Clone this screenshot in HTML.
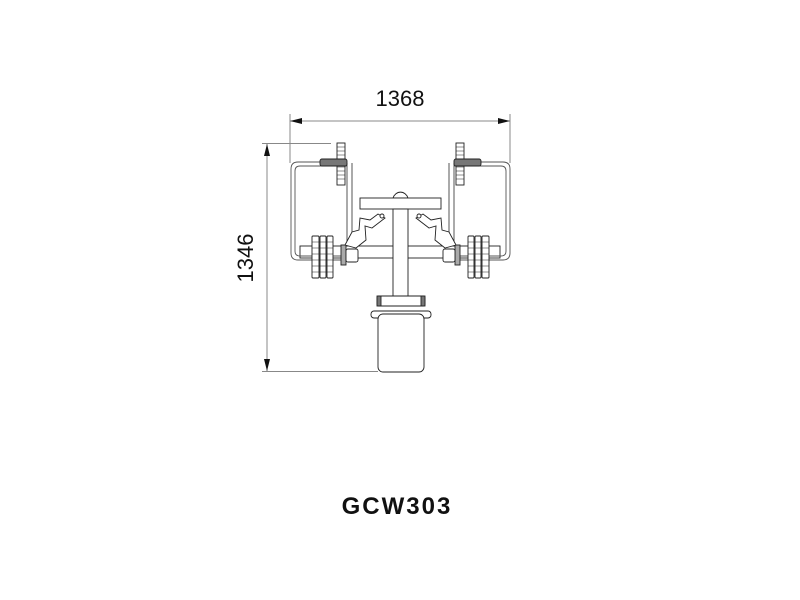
<!DOCTYPE html>
<html><head><meta charset="utf-8"><style>
html,body{margin:0;padding:0;background:#fff;width:800px;height:600px;overflow:hidden}
svg{display:block}
</style></head><body>
<svg width="800" height="600" viewBox="0 0 800 600" xmlns="http://www.w3.org/2000/svg" font-family="Liberation Sans, sans-serif">
<defs>
<g id="half" fill="#fff" stroke="#222" stroke-width="0.9">
  <path d="M352,163 L352,245 M347,163 L347,245" fill="none" stroke="#444"/>
  <path d="M347,162 L298,162 Q291,162 291,169 L291,253 Q291,260 298,260 L345,260" fill="none" stroke="#555"/>
  <path d="M347,166 L300,166 Q295,166 295,171 L295,251 Q295,256 300,256 L345,256" fill="none" stroke="#555"/>
  <rect x="337" y="143" width="8" height="42" fill="#fff"/>
  <path d="M337,147h8M337,151h8M337,155h8M337,159h8M337,163h8M337,167h8M337,171h8M337,175h8M337,179h8" stroke-width="0.6"/>
  <rect x="320" y="159" width="27" height="7" rx="2" fill="#777"/>
  <rect x="312" y="236" width="7" height="42" rx="1"/>
  <rect x="320" y="236" width="6" height="42" rx="1"/>
  <rect x="327" y="236" width="6" height="42" rx="1"/>
  <path d="M312,242h21M312,248h21M312,254h21M312,260h21M312,266h21M312,272h21" stroke-width="0.5"/>
  <rect x="341" y="245" width="5" height="20" fill="#aaa"/>
  <rect x="346" y="249" width="12" height="13" rx="2"/>
  <path d="M345,245 L352,232 L359,230 L360,218 L370,220 L378,214 L385,218 L372,228 L365,226 L366,240 L356,248 Z"/>
  <circle cx="382" cy="216" r="2"/>
</g>
</defs>
<g stroke="#888" stroke-width="1">
  <line x1="290" y1="121" x2="510" y2="121"/>
  <line x1="290" y1="114" x2="290" y2="163"/>
  <line x1="510" y1="114" x2="510" y2="163"/>
  <line x1="267" y1="144" x2="267" y2="371"/>
  <line x1="262" y1="143.5" x2="331" y2="143.5"/>
  <line x1="262" y1="371.5" x2="378" y2="371.5"/>
</g>
<path d="M290,121 l12,-3 v6z M510,121 l-12,-3 v6z M267,144 l-3,12 h6z M267,371 l-3,-12 h6z" fill="#111"/>
<text x="400" y="106" font-size="22" text-anchor="middle" fill="#111">1368</text>
<text transform="translate(253,258) rotate(-90)" font-size="22" text-anchor="middle" fill="#111">1346</text>
<rect x="300" y="246" width="200" height="12" fill="#fff" stroke="#222" stroke-width="0.9"/>
<use href="#half"/>
<use href="#half" transform="translate(801,0) scale(-1,1)"/>
<g fill="#fff" stroke="#222" stroke-width="0.9">
  <path d="M393,198 A8,9 0 0 1 408,198 Z"/>
  <rect x="360" y="198" width="81" height="11"/>
  <rect x="393" y="209" width="15" height="88"/>
  <rect x="377" y="296" width="48" height="10" rx="2"/>
  <rect x="377" y="296" width="4" height="10" fill="#777"/>
  <rect x="421" y="296" width="4" height="10" fill="#777"/>
  <rect x="371" y="311" width="60" height="7" rx="3"/>
  <rect x="378" y="314" width="46" height="58" rx="5"/>
</g>
<text x="397" y="514" font-size="24" font-weight="bold" text-anchor="middle" fill="#111" letter-spacing="2">GCW303</text>
</svg>
</body></html>
